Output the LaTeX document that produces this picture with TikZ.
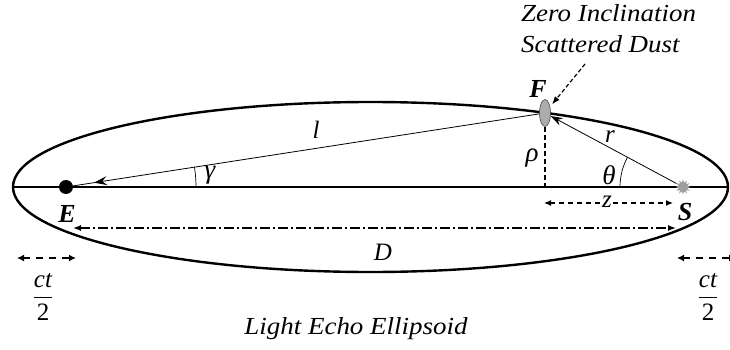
\documentclass[tikz,border=0pt]{standalone}
\usepackage{amsmath}
\usepackage{fontspec}
\setmainfont{Liberation Serif}
\newfontfamily\lblfont{Liberation Serif}[FakeStretch=1.1]
\usetikzlibrary{arrows.meta,shapes.geometric,decorations.markings}
\begin{document}
\begin{tikzpicture}[x=1pt,y=-1pt,
  axisline/.style={line width=1.2pt},
  shell/.style={line width=2.4pt},
  thinline/.style={line width=0.8pt},
  dimdash/.style={line width=1.8pt, dash pattern=on 7pt off 6pt, {Latex[length=7pt,width=7pt]}-{Latex[length=7pt,width=7pt]}},
  zdash/.style={line width=1.2pt, dash pattern=on 5pt off 4pt, {Latex[length=7pt,width=6pt]}-{Latex[length=7pt,width=6pt]}},
  ddash/.style={line width=1.4pt, dash pattern=on 10pt off 3pt on 2pt off 3pt, {Latex[length=8pt,width=6pt]}-{Latex[length=8pt,width=6pt]}},
  mathlbl/.style={font=\fontsize{25}{28}\selectfont\itshape, inner sep=0pt},
  greeklbl/.style={font=\fontsize{27}{30}\selectfont\itshape, inner sep=0pt},
  fraclbl/.style={font=\fontsize{25}{28}\selectfont, inner sep=1pt},
  ptlbl/.style={font=\fontsize{26}{28}\selectfont\bfseries\itshape, inner sep=1pt},
  txtlbl/.style={font=\lblfont\fontsize{24.5}{31}\selectfont\itshape, inner sep=0pt},
]
\useasboundingbox (0,0) rectangle (730,350);
\coordinate (C) at (370.5,187);
\coordinate (Lft) at (13,187);
\coordinate (Rgt) at (728,187);
\draw[shell] (C) ellipse [x radius=357.5, y radius=85];
\draw[axisline] (Lft) -- (Rgt);

\node[circle, fill=black, inner sep=0pt, minimum size=14pt] (E) at (66,187) {};
\node[star, star points=12, star point ratio=1.7, fill=gray!75, inner sep=0pt, minimum size=15pt] (S) at (683,187) {};
\node[ellipse, draw=gray!55!black, fill=gray!65, line width=0.6pt, inner sep=0pt, minimum width=11pt, minimum height=27pt] (F) at (545,113) {};

% l line with arrow near E
\draw[thinline, postaction=decorate, decoration={markings, mark=at position 0.955 with {\arrow{Stealth[length=13pt,width=9pt,inset=5pt]}}}] (F) -- (E);
% r line
\draw[thinline, -{Stealth[length=12pt,width=8pt,inset=4pt]}] (S) -- (F);
% rho
\coordinate (Fbase) at (545,187);
\draw[line width=1.6pt, dash pattern=on 5pt off 3pt] (F.south) -- (Fbase);
% angles
\draw[line width=0.7pt] (S) ++(180:63) arc[start angle=180, end angle=208.2, radius=63];
\draw[line width=0.7pt] (E) ++(0:130) arc[start angle=0, end angle=-8.78, radius=130];

% dust pointer
\coordinate (dtip) at (585,64);
\draw[line width=1.2pt, dash pattern=on 4pt off 2.5pt, -{Latex[length=8pt,width=6pt]}, shorten >=3pt] (dtip) -- (F);

% z
\coordinate (z1) at (544,203);
\coordinate (z2) at (673,203);
\draw[zdash] (z1) -- (z2);
\node[mathlbl, fill=white, inner sep=1pt] (labz) at (607,202) {z};

% D
\coordinate (d1) at (73,228);
\coordinate (d2) at (676,228);
\draw[ddash] (d1) -- (d2);

% ct/2 arrows
\coordinate (cl1) at (17,258);
\coordinate (cl2) at (76,258);
\draw[dimdash] (cl1) -- (cl2);
\coordinate (cr1) at (677,258);
\coordinate (cr2) at (736,258);
\draw[dimdash] (cr1) -- (cr2);

% labels
\node[mathlbl] (labl) at (316,130) {l};
\node[greeklbl] (labg) at (210,175) {γ};
\node[greeklbl] (labrho) at (532,158) {ρ};
\node[mathlbl] (labr) at (610,137) {r};
\node[greeklbl] (labth) at (609,175) {θ};
\node[mathlbl] (labD) at (383,252) {D};
\node[ptlbl] (labE) at (67,214) {E};
\node[ptlbl] (labS) at (685,212) {S};
\node[ptlbl] (labF) at (538,89) {F};
\node[fraclbl] (ctl) at (43,297) {$\dfrac{\textit{ct}}{\textup{2}}$};
\node[fraclbl] (ctr) at (708,297) {$\dfrac{\textit{ct}}{\textup{2}}$};

\node[txtlbl, anchor=base west] (dust1) at (521,22) {Zero Inclination};
\node[txtlbl, anchor=base west] (dust2) at (521,53) {Scattered Dust};
\node[txtlbl, anchor=base] (title) at (356,334) {Light Echo Ellipsoid};
\end{tikzpicture}
\end{document}
